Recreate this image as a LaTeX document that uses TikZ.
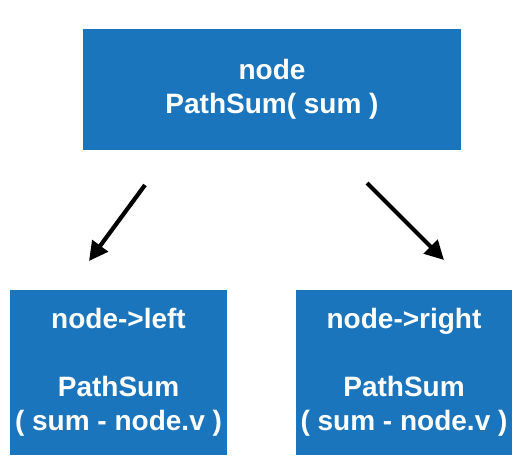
\documentclass[tikz,border=0pt]{standalone}
\usepackage{fontspec}
\setmainfont{Liberation Sans}
\usetikzlibrary{arrows.meta}

\definecolor{boxblue}{RGB}{27,117,188}

\tikzset{
    callbox/.style={fill=boxblue, text=white, align=center,
        font=\fontsize{28}{34}\selectfont\bfseries, inner sep=0pt},
    callarrow/.style={line width=4.2pt, -{Triangle[length=19pt,width=19pt]}}
}

\begin{document}
\begin{tikzpicture}[x=1pt, y=1pt]

\useasboundingbox (0, 0) rectangle (524, 466);

\node[callbox, minimum width=378pt, minimum height=121pt] (top) at (272, 376.5)
    {node\\PathSum( sum )};

\node[callbox, minimum width=217pt, minimum height=165pt] (left) at (118.5, 93.5)
    {node->left\\[34pt]PathSum\\( sum - node.v )};
\node[callbox, minimum width=216pt, minimum height=165pt] (right) at (404, 93.5)
    {node->right\\[34pt]PathSum\\( sum - node.v )};

\coordinate (ls) at (145, 281);
\coordinate (le) at (89, 205);
\coordinate (rs) at (367, 283);
\coordinate (re) at (444, 206);

\draw[callarrow] (ls) -- (le);
\draw[callarrow] (rs) -- (re);

\end{tikzpicture}
\end{document}
